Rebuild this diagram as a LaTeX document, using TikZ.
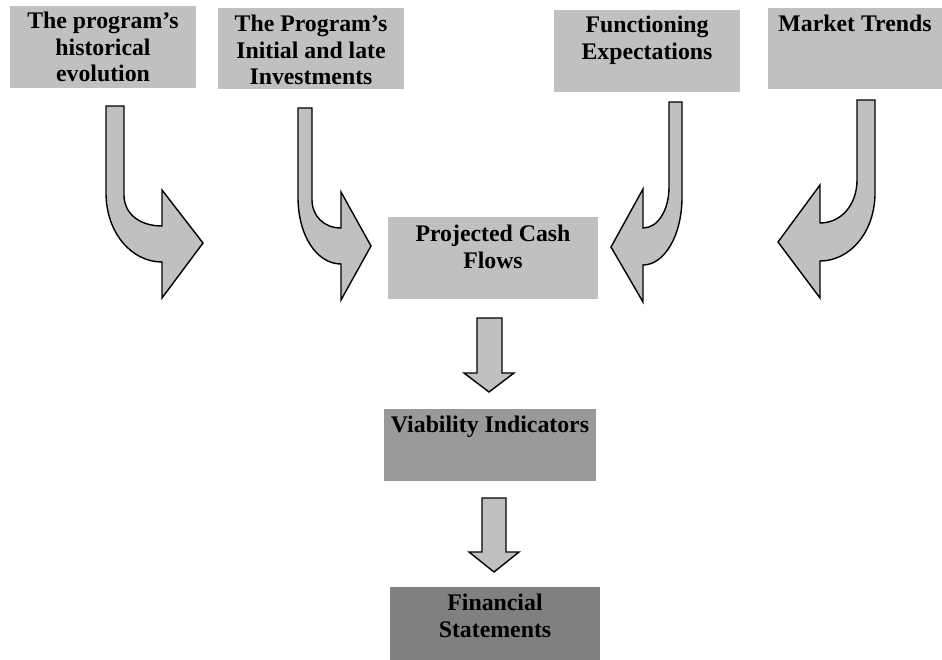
\documentclass[tikz,border=0pt]{standalone}
\usepackage{fontspec}
\setmainfont{Liberation Serif}
\definecolor{lightbox}{HTML}{C0C0C0}
\definecolor{midbox}{HTML}{999999}
\definecolor{darkbox}{HTML}{808080}
\definecolor{arrowfill}{HTML}{C0C0C0}
\tikzset{
  boxnode/.style={rectangle, inner sep=0pt, outer sep=0pt, draw=none, anchor=north west},
  txtnode/.style={inner sep=0pt, outer sep=0pt, anchor=north, align=center,
    font=\fontsize{23.8}{26.5}\selectfont\bfseries},
  blockarrow/.style={draw=black, fill=arrowfill, line width=1.4pt, line join=miter}
}
\begin{document}
\begin{tikzpicture}[x=1pt,y=-1pt]
\useasboundingbox (0,0) rectangle (942,660);
% boxes
\node[boxnode, fill=lightbox, minimum width=186pt, minimum height=82pt] (hist) at (10,6) {};
\node[boxnode, fill=lightbox, minimum width=186pt, minimum height=81pt] (inv) at (218,8) {};
\node[boxnode, fill=lightbox, minimum width=186pt, minimum height=82pt] (func) at (554,10) {};
\node[boxnode, fill=lightbox, minimum width=174pt, minimum height=81pt] (mkt) at (768,8) {};
\node[boxnode, fill=lightbox, minimum width=210pt, minimum height=82pt] (pcf) at (388,217) {};
\node[boxnode, fill=midbox, minimum width=212pt, minimum height=72pt] (via) at (384,409) {};
\node[boxnode, fill=darkbox, minimum width=210pt, minimum height=73pt] (fin) at (390,587) {};
% texts
\node[txtnode] (histT) at ([yshift=-6pt]hist.north) {The program’s\\historical\\evolution};
\node[txtnode] (invT) at ([yshift=-7pt]inv.north) {The Program’s\\Initial and late\\Investments};
\node[txtnode] (funcT) at ([yshift=-6pt]func.north) {Functioning\\Expectations};
\node[txtnode] (mktT) at ([yshift=-7pt]mkt.north) {Market Trends};
\node[txtnode] (pcfT) at ([yshift=-8pt]pcf.north) {Projected Cash\\Flows};
\node[txtnode] (viaT) at ([yshift=-7pt]via.north) {Viability Indicators};
\node[txtnode] (finT) at ([yshift=-7pt]fin.north) {Financial\\Statements};
% curved arrows, bending right
\draw[blockarrow] (106,106) -- (106,193)
  .. controls (106,232) and (131,262) .. (162,262)
  -- (162,298) -- (203,243) -- (162,190) -- (162,226)
  .. controls (140,226) and (124,214) .. (124,195)
  -- (124,106) -- cycle;
\draw[blockarrow] (298,108) -- (298,197)
  .. controls (298,236) and (317,264) .. (341,264)
  -- (341,300) -- (371,246) -- (341,192) -- (341,228)
  .. controls (324,228) and (312,216) .. (312,200)
  -- (312,108) -- cycle;
% curved arrows, bending left
\draw[blockarrow] (682,102) -- (682,197)
  .. controls (682,236) and (664,265) .. (643,265)
  -- (643,302) -- (611,247) -- (643,189) -- (643,228)
  .. controls (658,228) and (669,210) .. (669,187)
  -- (669,102) -- cycle;
\draw[blockarrow] (875,100) -- (875,193)
  .. controls (875,232) and (850,261) .. (820,261)
  -- (820,298) -- (778,242) -- (820,185) -- (820,223)
  .. controls (841,223) and (857,205) .. (857,180)
  -- (857,100) -- cycle;
% straight arrows
\draw[blockarrow] (477,318) -- (477,373) -- (464,373) -- (489,392) -- (514,373) -- (502,373) -- (502,318) -- cycle;
\draw[blockarrow] (482,498) -- (482,552) -- (469,552) -- (494,572) -- (519,552) -- (506,552) -- (506,498) -- cycle;
\end{tikzpicture}
\end{document}
